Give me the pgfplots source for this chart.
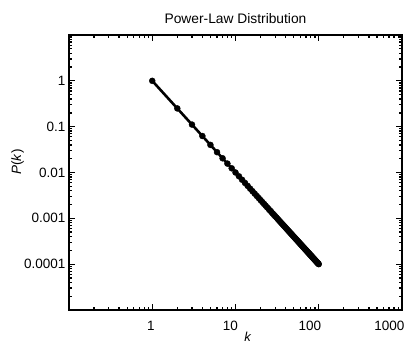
\documentclass[border=0pt]{standalone}
\usepackage{fontspec}
\setmainfont{Liberation Sans}
\usepackage{pgfplots}
\pgfplotsset{compat=1.18}
\begin{document}
\begin{tikzpicture}
\useasboundingbox (-69pt,-35pt) rectangle (339pt,310pt);
\begin{axis}[
  at={(0pt,0pt)}, anchor=south west,
  scale only axis, width=333pt, height=275pt,
  xmode=log, ymode=log,
  xmin=0.1, xmax=1000, ymin=1e-5, ymax=10,
  xtick={0.1,1,10,100,1000}, xticklabels={,1,10,100,1000},
  ytick={1e-5,1e-4,1e-3,0.01,0.1,1,10}, yticklabels={,0.0001,0.001,0.01,0.1,1,},
  /pgf/number format/assume math mode=true,
  tick label style={font=\fontsize{13.5}{15}\selectfont},
  xticklabel style={anchor=north east, inner sep=0pt, xshift=2.5pt, yshift=-11pt},
  yticklabel style={xshift=0pt},
  major tick length=6pt, minor tick length=3.5pt,
  every tick/.style={black, line width=1.3pt},
  axis line style={line width=1.8pt},
  title={Power-Law Distribution},
  title style={font=\fontsize{13.8}{15}\selectfont, yshift=2pt},
  xlabel={\textit{k}},
  xlabel style={font=\fontsize{13}{14}\selectfont, at={(axis description cs:0.537,-0.078)}, anchor=north, inner sep=0pt},
  ylabel={\textit{P}(\textit{k})},
  ylabel style={font=\fontsize{13.5}{15}\selectfont, at={(axis description cs:-0.135,0.538)}, anchor=south, inner sep=0pt},
  clip=false,
]
\addplot[black, line width=2.6pt, mark=*, mark size=3pt, mark options={solid, fill=black, line width=0.4pt}] coordinates {
(1,1) (2,0.25) (3,0.1111) (4,0.0625) (5,0.04) (6,0.02778) (7,0.02041) (8,0.01563) (9,0.01235) (10,0.01)
(11,0.008264) (12,0.006944) (13,0.005917) (14,0.005102) (15,0.004444) (16,0.003906) (17,0.003460) (18,0.003086) (19,0.002770) (20,0.0025)
(21,0.002268) (22,0.002066) (23,0.001890) (24,0.001736) (25,0.0016) (26,0.001479) (27,0.001372) (28,0.001276) (29,0.001189) (30,0.001111)
(31,0.001041) (32,0.0009766) (33,0.0009183) (34,0.0008651) (35,0.0008163) (36,0.0007716) (37,0.0007305) (38,0.0006925) (39,0.0006575) (40,0.000625)
(41,0.0005949) (42,0.0005669) (43,0.0005408) (44,0.0005165) (45,0.0004938) (46,0.0004726) (47,0.0004527) (48,0.0004340) (49,0.0004165) (50,0.0004)
(51,0.0003845) (52,0.0003698) (53,0.0003560) (54,0.0003429) (55,0.0003306) (56,0.0003189) (57,0.0003078) (58,0.0002973) (59,0.0002873) (60,0.0002778)
(61,0.0002687) (62,0.0002601) (63,0.0002520) (64,0.0002441) (65,0.0002367) (66,0.0002296) (67,0.0002228) (68,0.0002163) (69,0.0002100) (70,0.0002041)
(71,0.0001984) (72,0.0001929) (73,0.0001877) (74,0.0001826) (75,0.0001778) (76,0.0001731) (77,0.0001687) (78,0.0001644) (79,0.0001602) (80,0.0001563)
(81,0.0001524) (82,0.0001487) (83,0.0001452) (84,0.0001417) (85,0.0001384) (86,0.0001352) (87,0.0001321) (88,0.0001291) (89,0.0001262) (90,0.0001235)
(91,0.0001208) (92,0.0001181) (93,0.0001156) (94,0.0001132) (95,0.0001108) (96,0.0001085) (97,0.0001063) (98,0.0001041) (99,0.0001020) (100,0.0001)
};
\end{axis}
\end{tikzpicture}
\end{document}
